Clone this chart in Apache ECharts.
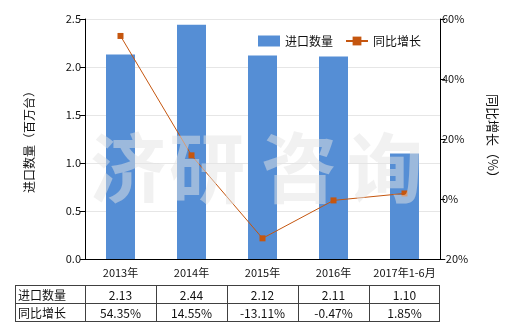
<!DOCTYPE html>
<html><head><meta charset="utf-8">
<script src="https://cdn.jsdelivr.net/npm/echarts@6/dist/echarts.min.js"></script>
<style>html,body{margin:0;padding:0;background:#fff}#c{width:520px;height:330px}</style>
</head><body><div id="c"></div>
<script>
var categories = ['2013年','2014年','2015年','2016年','2017年1-6月'];
var importQty = [2.13, 2.44, 2.12, 2.11, 1.10];
var yoyGrowth = [54.35, 14.55, -13.11, -0.47, 1.85];
var qtyLabels = ['2.13','2.44','2.12','2.11','1.10'];
var yoyLabels = ['54.35%','14.55%','-13.11%','-0.47%','1.85%'];
var rowNames = ['进口数量','同比增长'];
var watermark = ['济','研','咨','询'];

var FONT = '"Noto Sans CJK SC", "Noto Sans", sans-serif';
var chart = echarts.init(document.getElementById('c'));
var gridL = 85, gridR = 440, gridT = 19, gridB = 259;

function buildGraphics(){
  var g = [];
  var colW = (gridR - gridL) / categories.length;
  var tTop = 285, rowH = 18, tLeft = 15;
  var lineStyle = {stroke:'#404040', lineWidth:1};
  for (var r = 0; r <= 2; r++) {
    var y = tTop + r*rowH + 0.5;
    g.push({type:'line', shape:{x1:tLeft, y1:y, x2:gridR-1, y2:y}, style:lineStyle, z:10});
  }
  var xs = [tLeft, gridL];
  for (var i = 1; i <= categories.length; i++) xs.push(Math.round(gridL + colW*i) - (i===categories.length?1:0));
  xs.forEach(function(x){
    g.push({type:'line', shape:{x1:x+0.5, y1:tTop, x2:x+0.5, y2:tTop+2*rowH+1}, style:lineStyle, z:10});
  });
  rowNames.forEach(function(n, r){
    g.push({type:'text', x:tLeft+3, y:tTop + r*rowH + rowH/2 + 1, style:{text:n, font:'12px '+FONT, fill:'#111', textVerticalAlign:'middle', textAlign:'left'}, z:10});
  });
  [qtyLabels, yoyLabels].forEach(function(arr, r){
    arr.forEach(function(t, i){
      g.push({type:'text', x:gridL + colW*(i+0.5), y:tTop + r*rowH + rowH/2 + 1, style:{text:t, font:'12px '+FONT, fill:'#111', textAlign:'center', textVerticalAlign:'middle'}, z:10});
    });
  });
  var wx = [128, 207, 299, 385];
  watermark.forEach(function(ch, i){
    g.push({type:'text', x:wx[i], y:168, style:{text:ch, font:'bold 76px '+FONT, fill:'rgba(228,228,228,0.5)', textAlign:'center', textVerticalAlign:'middle'}, z:100, silent:true});
  });
  return g;
}

chart.setOption({
  animation:false,
  textStyle:{fontFamily:FONT},
  grid:{left:gridL, right:520-gridR, top:gridT, bottom:330-gridB, containLabel:false},
  legend:{
    left:253, top:30, itemWidth:22, itemHeight:11, itemGap:12,
    textStyle:{fontSize:12, color:'#111', fontFamily:FONT},
    data:[{name:'进口数量', icon:'rect'}, {name:'同比增长'}]
  },
  xAxis:{
    type:'category', data:categories,
    axisLine:{lineStyle:{color:'#000', width:1}},
    axisTick:{alignWithLabel:true, length:5, lineStyle:{color:'#000'}},
    axisLabel:{color:'#111', fontSize:11, margin:8, interval:0}
  },
  yAxis:[{
    type:'value', min:0, max:2.5, interval:0.5,
    name:'进口数量（百万台）', nameLocation:'middle', nameGap:50,
    nameTextStyle:{fontSize:12, color:'#111'},
    axisLine:{show:true, lineStyle:{color:'#000'}},
    axisTick:{show:true, length:5, lineStyle:{color:'#000'}},
    axisLabel:{color:'#111', fontSize:11, margin:4, formatter:function(v){return v.toFixed(1);}},
    splitLine:{lineStyle:{color:'#e6e6e6'}}
  },{
    type:'value', min:-20, max:60, interval:20,
    name:'同比增长（%）', nameLocation:'middle', nameGap:46, nameRotate:-90,
    nameTextStyle:{fontSize:13, color:'#111'},
    axisLine:{show:true, lineStyle:{color:'#000'}},
    axisTick:{show:true, length:5, lineStyle:{color:'#000'}},
    axisLabel:{color:'#111', fontSize:11, margin:2, formatter:'{value}%'},
    splitLine:{show:false}
  }],
  series:[{
    name:'进口数量', type:'bar', data:importQty, barWidth:29,
    itemStyle:{color:'#558ed5'}
  },{
    name:'同比增长', type:'line', yAxisIndex:1, data:yoyGrowth,
    symbol:'rect', symbolSize:6,
    lineStyle:{color:'#c5560f', width:1},
    itemStyle:{color:'#c5560f'}
  }],
  graphic: buildGraphics()
});
</script></body></html>
